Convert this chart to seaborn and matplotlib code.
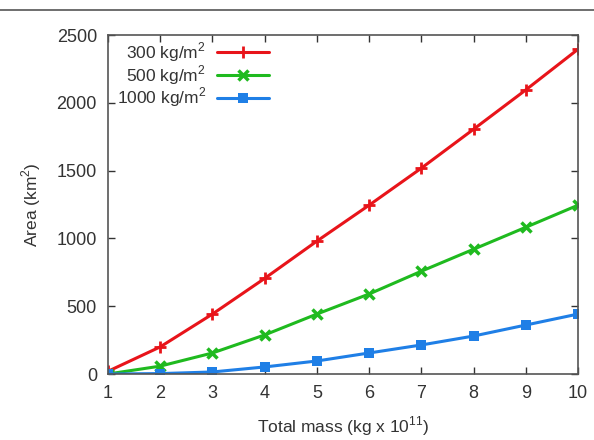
import numpy as np
import pandas as pd
import matplotlib
matplotlib.use("Agg")
import matplotlib.pyplot as plt
import seaborn as sns
from matplotlib.lines import Line2D

mass = [1, 2, 3, 4, 5, 6, 7, 8, 9, 10]
area_300 = [20, 200, 442, 705, 980, 1245, 1518, 1805, 2095, 2395]
area_500 = [0, 58, 155, 288, 442, 590, 758, 920, 1082, 1245]
area_1000 = [0, 3, 15, 52, 96, 155, 214, 280, 361, 442]
labels = ["300 kg/m$^2$", "500 kg/m$^2$", "1000 kg/m$^2$"]

df = pd.DataFrame({"mass": mass * 3,
                   "area": area_300 + area_500 + area_1000,
                   "series": [labels[0]] * 10 + [labels[1]] * 10 + [labels[2]] * 10})

sns.set_theme(style="ticks")
plt.rcParams['font.family'] = ['Liberation Sans', 'DejaVu Sans']
plt.rcParams['mathtext.fontset'] = 'custom'
plt.rcParams['mathtext.rm'] = 'Liberation Sans'

fig = plt.figure(figsize=(5.94, 4.4), dpi=100)
ax = fig.add_axes([108 / 594, 1 - 374 / 440, 470 / 594, 339 / 440])

palette = {labels[0]: "#e8141a", labels[1]: "#1fba1f", labels[2]: "#1f7fe6"}
styles = {labels[0]: dict(marker="+", ms=9, mew=2),
          labels[1]: dict(marker="x", ms=7, mew=2.5),
          labels[2]: dict(marker="s", ms=6.5, mew=0)}

for lab in labels:
    sub = df[df.series == lab]
    sns.lineplot(data=sub, x="mass", y="area", ax=ax, color=palette[lab],
                 lw=2.2, label=lab, mec=palette[lab], mfc=palette[lab],
                 **styles[lab])

ax.set_xlim(1, 10)
ax.set_ylim(0, 2500)
ax.set_xticks(range(1, 11))
ax.set_yticks(range(0, 2501, 500))
ax.tick_params(direction="in", top=True, right=True, length=5, width=1,
               labelsize=13, colors="#333333", pad=8)
for sp in ax.spines.values():
    sp.set_color("#555555")
    sp.set_linewidth(1.2)

ax.set_xlabel("Total mass (kg x 10$^{11}$)", fontsize=12.5, color="#333333", labelpad=9)
ax.set_ylabel("Area (km$^2$)", fontsize=12.5, color="#333333", labelpad=10)

leg = ax.legend(loc="upper left", frameon=False, markerfirst=False, fontsize=12.5,
                handlelength=3.0, borderaxespad=0.1, labelspacing=-0.05,
                handletextpad=0.6, bbox_to_anchor=(0.0, 1.01))
for t in leg.get_texts():
    t.set_color("#333333")

fig.add_artist(Line2D([0, 1], [1 - 10 / 440, 1 - 10 / 440], color="#555555", lw=1.2))

fig.savefig("out.png", dpi=100)
